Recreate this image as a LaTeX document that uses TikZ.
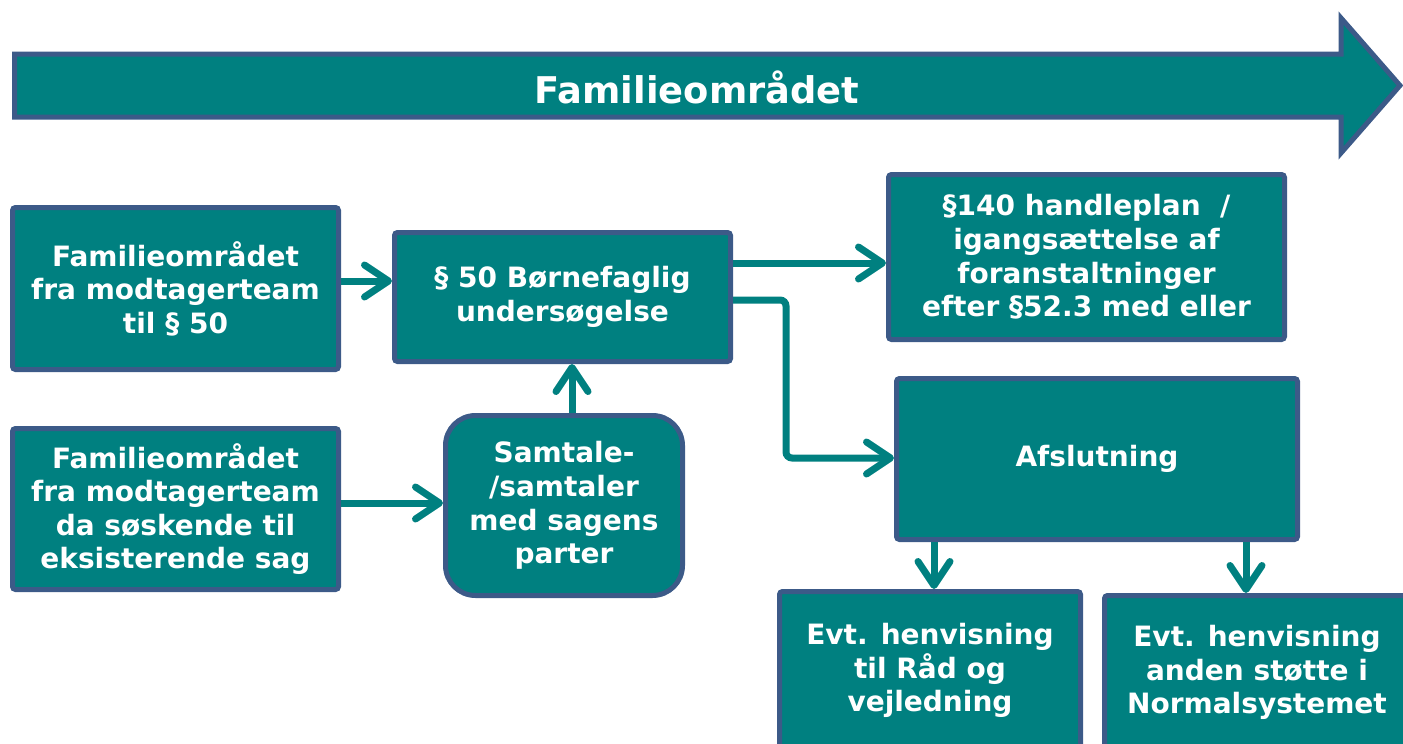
\documentclass[tikz,border=0pt]{standalone}
\usepackage{fontspec}
\setmainfont{DejaVu Sans}
\usetikzlibrary{arrows.meta,calc}
\definecolor{tealfill}{RGB}{0,128,128}
\definecolor{edgeblue}{RGB}{60,90,136}
\tikzset{
  box/.style={draw=edgeblue, line width=2.5pt, fill=tealfill, text=white,
    font=\bfseries\fontsize{14}{16.8}\selectfont, align=center, inner sep=0pt,
    rounded corners=1.5pt},
  conn/.style={draw=tealfill, line width=3.5pt,
    -{Straight Barb[length=12pt,width=16pt,round]}},
  titletext/.style={text=white, font=\bfseries\fontsize{18.4}{22}\selectfont, inner sep=0pt}
}
\newcommand\mybox[7][]{%
  \node[box,#1, minimum width={(#5-#3-5)*0.5pt}, minimum height={(#6-#4-5)*0.5pt}]
    (#2) at ({(#3+#5)/2},{(#4+#6)/2}) {#7};}
\begin{document}
\begin{tikzpicture}[x=0.5pt,y=-0.5pt]
\useasboundingbox (0,0) rectangle (1403,744);
% big header arrow
\draw[draw=edgeblue, fill=tealfill, line width=2.5pt, line join=miter]
  (14.5,54) -- (1341,54) -- (1341,18) -- (1400,85.5) -- (1341,153) -- (1341,117)
  -- (14.5,117) -- cycle;
\node[titletext] (T) at (697,87) {Familieområdet};
% boxes
\mybox{A}{10}{205}{341}{372}{Familieområdet\\fra modtagerteam\\til § 50}
\mybox{B}{392}{230}{733}{364}{§ 50 Børnefaglig\\undersøgelse}
\mybox{C}{886}{172}{1287}{342}{§140 handleplan~ /\\igangsættelse af\\foranstaltninger\\efter §52.3 med eller}
\mybox{D}{10}{426}{341}{592}{Familieområdet\\fra modtagerteam\\da søskende til\\eksisterende sag}
\mybox[rounded corners=15pt]{E}{443}{413}{685}{598}{Samtale-\\/samtaler\\med sagens\\parter}
\mybox{F}{894}{376}{1300}{542}{Afslutning}
\mybox{G}{777}{589}{1083}{752}{Evt. henvisning\\til Råd og\\vejledning}
\mybox{H}{1102}{593}{1412}{752}{Evt. henvisning\\anden støtte i\\Normalsystemet}
% connector helper coordinates
\coordinate (yAB) at (0,281);
\coordinate (yBC) at (0,263);
\coordinate (yBF) at (0,300);
\coordinate (kBF) at (786,458);
\coordinate (xEB) at (572,0);
\coordinate (yDE) at (0,503);
\coordinate (xFG) at (934,0);
\coordinate (xFH) at (1246,0);
% connectors
\draw[conn] (A.east |- yAB) -- (B.west |- yAB);
\draw[conn] (B.east |- yBC) -- (C.west |- yBC);
\draw[conn, rounded corners=3pt] (B.east |- yBF) -| (kBF) -- (F.west |- kBF);
\draw[conn] (E.north -| xEB) -- (B.south -| xEB);
\draw[conn] (D.east |- yDE) -- (E.west |- yDE);
\draw[conn] (F.south -| xFG) -- (G.north -| xFG);
\draw[conn] (F.south -| xFH) -- (H.north -| xFH);
\end{tikzpicture}
\end{document}
